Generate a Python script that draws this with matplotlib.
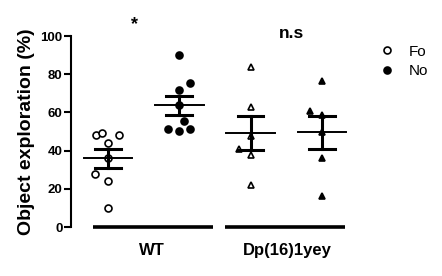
import matplotlib.pyplot as plt
from matplotlib.lines import Line2D
import numpy as np

plt.rcParams['font.family'] = ['Liberation Sans', 'DejaVu Sans']

# data (% object exploration)
groups = ['WT', 'Dp(16)1yey']
wt_fo = [48, 49, 48, 44, 36, 28, 24, 10]
wt_no = [90, 75.5, 71.5, 63.8, 55.5, 51.5, 50.5, 51.5]
dp_fo = [84, 63, 47.6, 40.6, 37.6, 22]
dp_no = [76.5, 61, 58.5, 49.8, 36, 16]
signif = ['*', 'n.s']

# horizontal scatter of the points (x units)
wt_fo_dx = [-0.17, -0.085, 0.155, 0, 0, -0.18, 0, 0]
wt_no_dx = [0, 0.15, 0, 0, 0.07, -0.16, 0, 0.15]
dp_fo_dx = [0, 0, 0, -0.16, 0, 0]
dp_no_dx = [0, -0.17, 0, 0, 0, 0]

fig = plt.figure(figsize=(4.42, 2.76), dpi=100)
ax = fig.add_axes([0.1606, 0.1775, 0.6645, 0.692])

sets = [
    (1, wt_fo, wt_fo_dx, 'o', 'white'),
    (2, wt_no, wt_no_dx, 'o', 'black'),
    (3, dp_fo, dp_fo_dx, '^', 'white'),
    (4, dp_no, dp_no_dx, '^', 'black'),
]

for pos, vals, dx, mk, fc in sets:
    vals = np.array(vals)
    ax.plot(pos + np.array(dx), vals, linestyle='none', marker=mk, ms=5 if mk == 'o' else 4.5,
            mfc=fc, mec='black', mew=1.2, clip_on=False, zorder=3)
    m = vals.mean()
    sem = vals.std(ddof=1) / np.sqrt(len(vals))
    ax.plot([pos - 0.34, pos + 0.34], [m, m], color='black', lw=1.4, zorder=4)
    ax.plot([pos, pos], [m - sem, m + sem], color='black', lw=2.2, zorder=4)
    for y in (m - sem, m + sem):
        ax.plot([pos - 0.18, pos + 0.18], [y, y], color='black', lw=2.2, zorder=4)

# group baselines and labels
spans = [(0.79, 2.47), (2.64, 4.32)]
label_x = [1.62, 3.52]
for g, (x0, x1), lx in zip(groups, spans, label_x):
    ax.plot([x0, x1], [0, 0], color='black', lw=2.6,
            solid_capstyle='butt', clip_on=False)
    ax.text(lx, -12.5, g, ha='center', va='center', fontsize=12, fontweight='bold')

ax.text(1.37, 106, signif[0], ha='center', va='center', fontsize=13, fontweight='bold')
ax.text(3.57, 101.5, signif[1], ha='center', va='center', fontsize=12.5, fontweight='bold')

ax.set_xlim(0.481, 4.6)
ax.set_ylim(0, 100)
ax.set_yticks([0, 20, 40, 60, 80, 100])
for s in ['top', 'right', 'bottom']:
    ax.spines[s].set_visible(False)
ax.spines['left'].set_linewidth(1.5)
ax.set_xticks([])
ax.tick_params(axis='y', length=5, width=1.5, labelsize=9.5, pad=1)
for lab in ax.get_yticklabels():
    lab.set_fontweight('bold')
ax.set_ylabel('Object exploration (%)', fontsize=14, fontweight='bold', labelpad=4)

handles = [
    Line2D([], [], linestyle='none', marker='o', ms=5, mfc='white', mec='black', mew=1.2),
    Line2D([], [], linestyle='none', marker='o', ms=5, mfc='black', mec='black', mew=1.2),
]
fig.legend(handles, ['Fo', 'No'], loc='upper left', bbox_to_anchor=(0.845, 0.86),
           frameon=False, fontsize=11, handletextpad=0.9, labelspacing=0.35,
           handlelength=1.0, borderaxespad=0)

fig.savefig('out.png', dpi=100)
